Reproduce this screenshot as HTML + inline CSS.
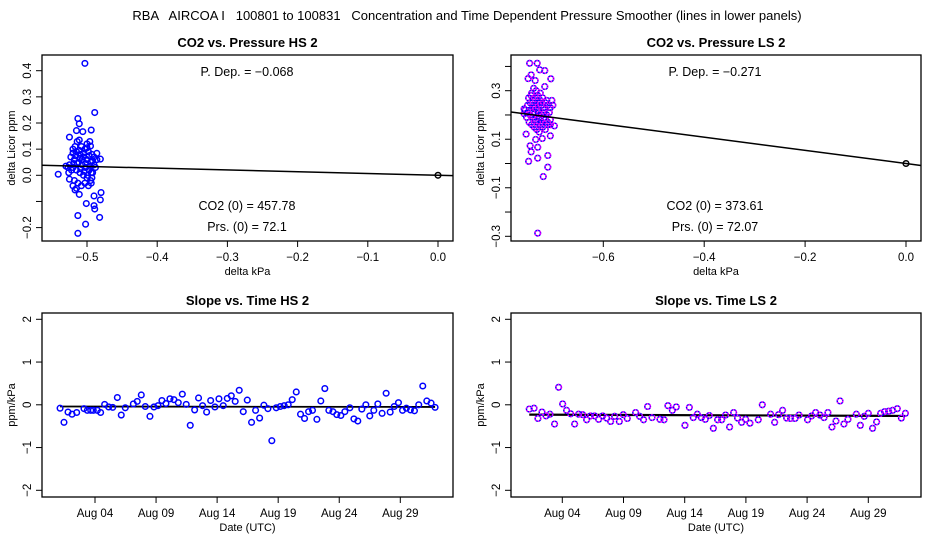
<!DOCTYPE html>
<html><head><meta charset="utf-8">
<style>
html,body{margin:0;padding:0;background:#fff;}
svg{display:block;font-family:"Liberation Sans",sans-serif;}
#ftitle{white-space:pre;}
</style></head>
<body>
<svg id="chart" width="936" height="540" viewBox="0 0 936 540" xmlns="http://www.w3.org/2000/svg">
<rect width="936" height="540" fill="#fff"/>
<text id="ftitle" x="467" y="20" font-size="13" text-anchor="middle" xml:space="preserve">RBA   AIRCOA I   100801 to 100831   Concentration and Time Dependent Pressure Smoother (lines in lower panels)</text>
</svg>
<script>
// ---- Panel 1: CO2 vs Pressure HS 2 ----
const hsPressure = [-0.503,-0.489,-0.513,-0.511,-0.506,-0.515,-0.494,-0.525,-0.541,-0.525,-0.517,-0.511,-0.501,-0.490,-0.489,-0.482,-0.513,-0.502,-0.513,-0.480,-0.490,-0.481,-0.481,-0.486,-0.496,-0.511,-0.514,-0.495,
-0.52,-0.515,-0.51,-0.505,-0.50,-0.495,-0.49,-0.518,-0.512,-0.507,-0.502,-0.497,-0.492,-0.52,-0.515,-0.51,-0.505,-0.50,-0.495,-0.49,-0.523,-0.517,-0.508,-0.503,-0.498,-0.493,-0.486,-0.525,-0.527,-0.53,-0.522,-0.518,-0.513,-0.508,-0.503,-0.498,-0.52,-0.515,-0.494,-0.51,-0.505,-0.5,-0.514,-0.496,-0.492,-0.52,-0.526,-0.5,-0.509,-0.504,-0.499,-0.494,-0.488,-0.516,-0.511,-0.497,-0.502,-0.519,-0.507,-0.493];
const hsDelta = [0.428,0.24,0.217,0.197,0.167,0.171,0.173,0.146,0.004,-0.015,-0.056,-0.073,-0.108,-0.116,-0.129,-0.161,-0.154,-0.187,-0.222,-0.066,-0.079,-0.094,0.062,0.084,0.129,0.135,0.129,0.112,
0.10,0.09,0.08,0.07,0.06,0.05,0.04,0.06,0.05,0.04,0.03,0.02,0.01,0.03,0.02,0.01,0.0,-0.01,-0.02,0.07,0.07,0.11,0.11,0.10,0.09,0.08,0.06,0.04,0.03,0.035,0.02,-0.02,-0.03,-0.04,-0.03,-0.04,-0.04,-0.05,-0.03,0.065,0.085,0.105,0.045,0.035,0.055,0.085,0.01,0.12,0.025,0.015,0.0,0.01,0.03,0.075,0.095,0.075,0.045,0.045,0.06,-0.01];
const hsPDep = -0.068;
const hsXTicks = [-0.5,-0.4,-0.3,-0.2,-0.1,0.0];
const hsXTickLabels = ["−0.5","−0.4","−0.3","−0.2","−0.1","0.0"];
const hsYTicks = [0.4,0.3,0.2,0.1,0.0,-0.1,-0.2];
const hsYTickLabels = ["0.4","0.3","0.2","0.1","0.0","","−0.2"];

// ---- Panel 2: CO2 vs Pressure LS 2 ----
const lsPressure = [-0.746,-0.731,-0.726,-0.716,-0.743,-0.749,-0.735,-0.704,-0.716,-0.753,-0.705,-0.697,-0.745,-0.730,-0.743,-0.710,-0.730,-0.748,-0.710,-0.719,-0.730,-0.721,-0.734,-0.757,
-0.755,-0.75,-0.745,-0.74,-0.735,-0.73,-0.725,-0.72,-0.715,-0.71,-0.705,-0.75,-0.745,-0.74,-0.735,-0.73,-0.725,-0.72,-0.715,-0.71,-0.705,-0.7,-0.748,-0.742,-0.737,-0.732,-0.727,-0.722,-0.717,-0.712,-0.707,-0.752,-0.747,-0.742,-0.737,-0.732,-0.727,-0.722,-0.717,-0.712,-0.738,-0.733,-0.728,-0.723,-0.718,-0.745,-0.74,-0.735,-0.73,-0.725,-0.72,-0.715,-0.71,-0.705,-0.757,-0.702,-0.743,-0.731,-0.726,-0.736];
const lsDelta = [0.413,0.413,0.386,0.383,0.365,0.35,0.342,0.349,0.317,0.121,0.114,0.155,0.073,0.067,0.048,0.033,0.022,0.009,-0.015,-0.054,-0.287,0.103,0.099,0.225,
0.22,0.21,0.20,0.19,0.18,0.17,0.16,0.15,0.14,0.16,0.18,0.24,0.25,0.26,0.27,0.28,0.29,0.27,0.25,0.24,0.23,0.24,0.27,0.29,0.23,0.22,0.21,0.20,0.19,0.20,0.21,0.19,0.17,0.16,0.15,0.14,0.13,0.17,0.22,0.26,0.31,0.30,0.25,0.24,0.23,0.22,0.23,0.24,0.25,0.26,0.21,0.18,0.17,0.16,0.205,0.26,0.28,0.195,0.185,0.205];
const lsPDep = -0.271;
const lsXTicks = [-0.6,-0.4,-0.2,0.0];
const lsXTickLabels = ["−0.6","−0.4","−0.2","0.0"];
const lsYTicks = [0.4,0.3,0.2,0.1,0.0,-0.1,-0.2,-0.3];
const lsYTickLabels = ["","0.3","","0.1","","−0.1","","−0.3"];

// ---- Panel 3: Slope vs Time HS 2 (day of August) ----
const hsDays = [1.14,1.46,1.79,2.12,2.50,3.10,3.37,3.65,3.86,4.19,4.46,4.79,5.12,5.45,5.83,6.15,6.48,7.14,7.46,7.79,8.12,8.50,8.83,9.16,9.48,9.81,10.14,10.46,10.82,11.15,11.47,11.80,12.16,12.48,12.81,13.14,13.47,13.82,14.15,14.50,14.83,15.16,15.48,15.81,16.14,16.47,16.82,17.15,17.48,17.83,18.16,18.48,18.84,19.17,19.49,19.82,20.15,20.48,20.83,21.16,21.49,21.81,22.17,22.49,22.82,23.15,23.48,23.80,24.13,24.46,24.87,25.20,25.52,25.85,26.18,26.50,26.83,27.16,27.51,27.84,28.17,28.50,28.85,29.18,29.50,29.83,30.16,30.51,30.84,31.17,31.52,31.85];
const hsSlope = [-0.08,-0.41,-0.17,-0.22,-0.18,-0.09,-0.13,-0.13,-0.13,-0.13,-0.18,0.01,-0.05,-0.06,0.17,-0.24,-0.07,0.02,0.08,0.23,-0.04,-0.27,-0.05,-0.02,0.10,0.03,0.14,0.12,0.05,0.25,0.01,-0.48,-0.12,0.16,-0.02,-0.17,0.10,-0.05,0.14,-0.02,0.15,0.21,0.08,0.34,-0.16,0.11,-0.41,-0.13,-0.31,-0.01,-0.09,-0.84,-0.07,-0.04,-0.02,0.00,0.12,0.30,-0.22,-0.32,-0.16,-0.13,-0.34,0.09,0.38,-0.13,-0.16,-0.23,-0.25,-0.16,-0.07,-0.33,-0.38,-0.10,0.00,-0.26,-0.13,0.02,-0.20,0.27,-0.17,-0.04,0.05,-0.13,-0.08,-0.12,-0.14,0.00,0.44,0.09,0.04,-0.06];
const hsSmoothDays = [1.14,31.85];
const hsSmooth = [-0.04,-0.05];

// ---- Panel 4: Slope vs Time LS 2 ----
const lsDays = [1.30,1.69,2.01,2.34,2.67,2.99,3.37,3.70,4.03,4.35,4.68,5.01,5.33,5.66,5.99,6.31,6.64,6.97,7.30,7.62,7.95,8.28,8.66,8.98,9.31,9.99,10.32,10.64,10.97,11.33,11.98,12.31,12.63,12.99,13.31,14.02,14.38,14.70,15.03,15.36,15.68,16.01,16.34,16.69,17.02,17.34,17.67,18.00,18.32,18.65,18.98,19.33,20.01,20.34,21.02,21.35,21.67,22.00,22.33,22.65,23.01,23.34,24.04,24.37,24.70,25.05,25.38,25.70,26.03,26.36,26.69,27.01,27.34,28.02,28.35,28.67,29.00,29.35,29.68,30.01,30.33,30.66,30.99,31.37,31.70,32.03];
const lsSlope = [-0.10,-0.08,-0.32,-0.17,-0.26,-0.22,-0.45,0.41,0.02,-0.13,-0.21,-0.45,-0.22,-0.23,-0.35,-0.26,-0.26,-0.34,-0.26,-0.31,-0.39,-0.27,-0.39,-0.23,-0.32,-0.18,-0.27,-0.35,-0.04,-0.30,-0.34,-0.35,-0.02,-0.13,-0.05,-0.48,-0.06,-0.30,-0.22,-0.30,-0.34,-0.25,-0.55,-0.35,-0.35,-0.24,-0.52,-0.18,-0.31,-0.41,-0.34,-0.43,-0.35,0.00,-0.22,-0.41,-0.23,-0.13,-0.31,-0.32,-0.32,-0.24,-0.35,-0.26,-0.18,-0.24,-0.30,-0.18,-0.52,-0.38,0.09,-0.45,-0.34,-0.22,-0.48,-0.27,-0.20,-0.55,-0.40,-0.20,-0.16,-0.15,-0.13,-0.09,-0.31,-0.20];
const lsSmoothDays = [1.30,32.03];
const lsSmooth = [-0.23,-0.26];

const timeTicks = [4,9,14,19,24,29];
const timeTickLabels = ["Aug 04","Aug 09","Aug 14","Aug 19","Aug 24","Aug 29"];
const slopeTicks = [2,1,0,-1,-2];
const slopeTickLabels = ["2","1","0","−1","−2"];

const svg = document.getElementById('chart');
const NS = 'http://www.w3.org/2000/svg';
function mk(tag, attrs, parent){ const e=document.createElementNS(NS,tag); for(const k in attrs) e.setAttribute(k,attrs[k]); (parent||svg).appendChild(e); return e; }
function lin(d0,d1,r0,r1){ return v => r0 + (v-d0)*(r1-r0)/(d1-d0); }

function panel(o){
  const g = mk('g',{});
  
  
  const box = mk('rect',{x:o.L,y:o.T,width:o.R-o.L,height:o.B-o.T,fill:'none',stroke:'#000','stroke-width':1.3},g);
  
  
  const t = mk('text',{x:(o.L+o.R)/2,y:o.T-8,'font-size':13,'font-weight':'bold','text-anchor':'middle'},g);
  t.textContent = o.title;
  
  
  o.xTicks.forEach((v,i)=>{
    const x=o.sx(v);
    mk('line',{x1:x,x2:x,y1:o.B,y2:o.B+6,stroke:'#000','stroke-width':1},g);
    const tl = mk('text',{x:x,y:o.B+20,'font-size':11.5,'text-anchor':'middle'},g);
    tl.textContent = o.xLabels[i];
    
    
  });
  o.yTicks.forEach((v,i)=>{
    const y=o.sy(v);
    mk('line',{x1:o.L-6,x2:o.L,y1:y,y2:y,stroke:'#000','stroke-width':1},g);
    if(o.yLabels[i]){
      const tl = mk('text',{x:0,y:0,'font-size':11.5,'text-anchor':'middle',transform:`translate(${o.L-11},${y}) rotate(-90)`},g);
      tl.textContent = o.yLabels[i];
      
      
    }
  });
  const xt = mk('text',{x:(o.L+o.R)/2,y:o.B+34,'font-size':11,'text-anchor':'middle'},g);
  xt.textContent = o.xTitle;
  
  
  const yt = mk('text',{x:0,y:0,'font-size':11,'text-anchor':'middle',transform:`translate(${o.L-27},${(o.T+o.B)/2}) rotate(-90)`},g);
  yt.textContent = o.yTitle;
  
  
  return g;
}
function points(g, xs, ys, sx, sy, magenta){
  xs.forEach((v,i)=>{
    const cx=sx(v), cy=sy(ys[i]);
    const c = mk('circle',{cx:cx,cy:cy,r:2.8,fill:'none',stroke:'#0000ff','stroke-width':1.5},g);
    
    
    if(magenta){
      mk('circle',{cx:cx,cy:cy,r:2.8,fill:'none',stroke:'#ff00ff','stroke-width':1.5,'stroke-dasharray':'1.5 1.5'},g);
    }
  });
}
function note(g, x, y, s, name){
  const t = mk('text',{x:x,y:y,'font-size':12.5,'text-anchor':'middle'},g);
  t.textContent = s;
  
  
}

// Panel 1
{
  const L=42,R=453,T=55,B=241;
  const sx=lin(-0.5,0.0,87,438), sy=lin(0.4,0.0,70.7,175.3);
  const g=panel({name:'panel-co2-pressure-hs',L,R,T,B,sx,sy,title:'CO2 vs. Pressure HS 2',xTicks:hsXTicks,xLabels:hsXTickLabels,yTicks:hsYTicks,yLabels:hsYTickLabels,xTitle:'delta kPa',yTitle:'delta Licor ppm'});
  points(g,hsPressure,hsDelta,sx,sy,false);
  const x0=-0.564,x1=0.0214;
  const rl = mk('line',{x1:sx(x0),y1:sy(hsPDep*x0),x2:sx(x1),y2:sy(hsPDep*x1),stroke:'#000','stroke-width':1.5},g);
  
  
  mk('circle',{cx:sx(0),cy:sy(0),r:2.8,fill:'none',stroke:'#000','stroke-width':1.5},g);
  note(g,247,76,'P. Dep. =  −0.068','p-dep-label');
  note(g,247,210,'CO2 (0) =  457.78','co2-zero-label');
  note(g,247,231,'Prs. (0) =  72.1','prs-zero-label');
}
// Panel 2
{
  const L=511,R=921,T=55,B=241;
  const sx=lin(-0.6,0.0,603.3,906), sy=lin(0.3,-0.3,90.7,236.3);
  const g=panel({name:'panel-co2-pressure-ls',L,R,T,B,sx,sy,title:'CO2 vs. Pressure LS 2',xTicks:lsXTicks,xLabels:lsXTickLabels,yTicks:lsYTicks,yLabels:lsYTickLabels,xTitle:'delta kPa',yTitle:'delta Licor ppm'});
  points(g,lsPressure,lsDelta,sx,sy,true);
  const x0=-0.783,x1=0.0297;
  const rl = mk('line',{x1:sx(x0),y1:sy(lsPDep*x0),x2:sx(x1),y2:sy(lsPDep*x1),stroke:'#000','stroke-width':1.5},g);
  
  
  mk('circle',{cx:sx(0),cy:sy(0),r:2.8,fill:'none',stroke:'#000','stroke-width':1.5},g);
  note(g,715,76,'P. Dep. =  −0.271','p-dep-label');
  note(g,715,210,'CO2 (0) =  373.61','co2-zero-label');
  note(g,715,231,'Prs. (0) =  72.07','prs-zero-label');
}
// Panel 3
{
  const L=42,R=453,T=313,B=497;
  const sx=lin(4,29,95,400.3), sy=lin(2,-2,319.3,490.3);
  const g=panel({name:'panel-slope-time-hs',L,R,T,B,sx,sy,title:'Slope vs. Time HS 2',xTicks:timeTicks,xLabels:timeTickLabels,yTicks:slopeTicks,yLabels:slopeTickLabels,xTitle:'Date (UTC)',yTitle:'ppm/kPa'});
  const sl = mk('polyline',{points:hsSmoothDays.map((d,i)=>sx(d)+','+sy(hsSmooth[i])).join(' '),fill:'none',stroke:'#000','stroke-width':1.8},g);
  
  
  points(g,hsDays,hsSlope,sx,sy,false);
}
// Panel 4
{
  const L=511,R=921,T=313,B=497;
  const sx=lin(4,29,562.3,868.3), sy=lin(2,-2,319.3,490.3);
  const g=panel({name:'panel-slope-time-ls',L,R,T,B,sx,sy,title:'Slope vs. Time LS 2',xTicks:timeTicks,xLabels:timeTickLabels,yTicks:slopeTicks,yLabels:slopeTickLabels,xTitle:'Date (UTC)',yTitle:'ppm/kPa'});
  const sl = mk('polyline',{points:lsSmoothDays.map((d,i)=>sx(d)+','+sy(lsSmooth[i])).join(' '),fill:'none',stroke:'#000','stroke-width':2.2},g);
  
  
  points(g,lsDays,lsSlope,sx,sy,true);
}
</script>
</body></html>
